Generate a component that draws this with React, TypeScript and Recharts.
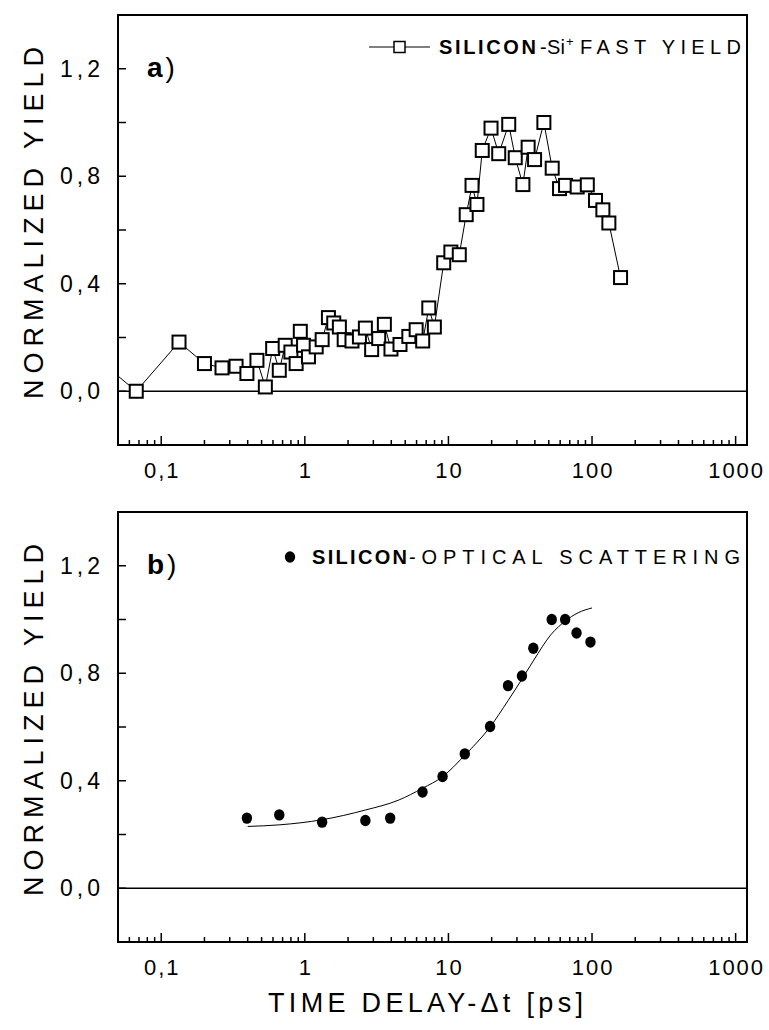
import React from 'react';
import { ComposedChart, Line, Scatter, XAxis, YAxis, ReferenceLine, ReferenceArea } from 'recharts';

// ---------- DATA ----------
const fastYieldX = [0.04, 0.067, 0.133, 0.2, 0.265, 0.332, 0.395, 0.464, 0.531, 0.597, 0.664, 0.73, 0.8, 0.87, 0.93, 0.98, 1.06, 1.2, 1.32, 1.46, 1.59, 1.74, 1.88, 2.13, 2.4, 2.64, 2.92, 3.27, 3.58, 3.98, 4.6, 5.3, 5.96, 6.62, 7.3, 7.98, 9.27, 10.4, 11.9, 13.3, 14.6, 15.8, 17.2, 19.8, 22.4, 26.3, 29.2, 33, 35.9, 39.8, 46.2, 52.8, 59.4, 65.4, 78.8, 92.7, 105.7, 119, 131, 158];
const fastYieldY = [0.10, 0.0, 0.183, 0.103, 0.087, 0.093, 0.066, 0.115, 0.016, 0.159, 0.078, 0.171, 0.146, 0.103, 0.223, 0.171, 0.128, 0.165, 0.192, 0.274, 0.254, 0.239, 0.192, 0.187, 0.202, 0.235, 0.155, 0.196, 0.249, 0.157, 0.174, 0.204, 0.229, 0.187, 0.31, 0.239, 0.478, 0.518, 0.508, 0.657, 0.766, 0.695, 0.896, 0.979, 0.884, 0.993, 0.869, 0.769, 0.908, 0.862, 1.0, 0.83, 0.754, 0.766, 0.76, 0.768, 0.71, 0.675, 0.626, 0.423];

const opticalX = [0.395, 0.664, 1.32, 2.64, 3.93, 6.6, 9.1, 13, 19.5, 26, 32.5, 39, 52.4, 65, 78, 97.5];
const opticalY = [0.261, 0.273, 0.246, 0.252, 0.261, 0.358, 0.416, 0.5, 0.602, 0.754, 0.79, 0.893, 1.0, 1.0, 0.95, 0.916];

const fitX = [0.4, 0.67, 1.32, 2.64, 4.5, 6.6, 9.1, 13, 19.5, 26, 32.5, 39, 52, 65, 80, 100];
const fitY = [0.23, 0.236, 0.255, 0.291, 0.328, 0.372, 0.415, 0.495, 0.6, 0.698, 0.778, 0.846, 0.945, 0.994, 1.025, 1.043];

const xMajorTicks = [0.1, 1, 10, 100, 1000];
const xTickLabels = ['0,1', '1', '10', '100', '1000'];
const xMinorTicks = [0.06, 0.07, 0.08, 0.09, 0.2, 0.3, 0.4, 0.5, 0.6, 0.7, 0.8, 0.9, 2, 3, 4, 5, 6, 7, 8, 9, 20, 30, 40, 50, 60, 70, 80, 90, 200, 300, 400, 500, 600, 700, 800, 900];
const yMajorTicks = [0, 0.4, 0.8, 1.2];
const yTickLabels = ['0,0', '0,4', '0,8', '1,2'];
const yMinorTicks = [0.2, 0.6, 1.0];

const xDomain = [0.05, 1200];
const yDomain = [-0.2, 1.4];

const fastData = fastYieldX.map((x, i) => ({ x, y: fastYieldY[i] }));
const opticalData = opticalX.map((x, i) => ({ x, y: opticalY[i] }));
const fitData = fitX.map((x, i) => ({ x, y: fitY[i] }));

const FONT = '"Liberation Sans", Arial, sans-serif';

const XTick = (props: any) => {
  const { x, y, payload } = props;
  const idx = xMajorTicks.indexOf(payload.value);
  const major = idx >= 0;
  return (
    <g>
      <line x1={x} x2={x} y1={y} y2={y - (major ? 9 : 5)} stroke="#000" strokeWidth={1.5} />
      {major && (
        <text x={x + 1} y={y + 33} textAnchor="middle" fontSize={22} fontFamily={FONT} letterSpacing={2} fill="#000">
          {xTickLabels[idx]}
        </text>
      )}
    </g>
  );
};

const YTick = (props: any) => {
  const { x, y, payload } = props;
  const idx = yMajorTicks.indexOf(payload.value);
  const major = idx >= 0;
  return (
    <g>
      <line x1={x} x2={x + 8} y1={y} y2={y} stroke="#000" strokeWidth={1.5} />
      {major && (
        <text x={x - 14} y={y + 8} textAnchor="end" fontSize={23} fontFamily={FONT} letterSpacing={4} fill="#000">
          {yTickLabels[idx]}
        </text>
      )}
    </g>
  );
};

const SquareDot = (props: any) => {
  const { cx, cy } = props;
  if (cx == null || cy == null) return null;
  return <rect x={cx - 6.5} y={cy - 6.5} width={13} height={13} fill="#fff" stroke="#000" strokeWidth={2} />;
};

const CircleDot = (props: any) => {
  const { cx, cy } = props;
  if (cx == null || cy == null) return null;
  return <ellipse cx={cx} cy={cy} rx={5.2} ry={5.7} fill="#000" />;
};

const W = 769;
const H = 505;

export default function App() {
  const allXTicks = [...xMinorTicks, ...xMajorTicks].sort((a, b) => a - b);
  const allYTicks = [...yMajorTicks, ...yMinorTicks].sort((a, b) => a - b);

  const axes = (
    <>
      <XAxis
        dataKey="x"
        type="number"
        scale="log"
        domain={xDomain}
        allowDataOverflow
        ticks={allXTicks}
        interval={0}
        tick={<XTick />}
        tickSize={0}
        tickMargin={0}
        axisLine={false}
        tickLine={false}
        height={60}
      />
      <YAxis
        dataKey="y"
        type="number"
        domain={yDomain}
        allowDataOverflow
        ticks={allYTicks}
        interval={0}
        tick={<YTick />}
        tickSize={0}
        tickMargin={0}
        axisLine={false}
        tickLine={false}
        width={118}
      />
    </>
  );

  return (
    <div style={{ position: 'absolute', left: 0, top: 0, width: W, height: 1030, background: '#fff' }}>
      <div style={{ position: 'absolute', left: 0, top: 0 }}>
        <ComposedChart width={W} height={H} margin={{ top: 15, right: 22, left: 0, bottom: 0 }} data={fastData}>
          {axes}
          <ReferenceLine y={0} stroke="#000" strokeWidth={1.5} />
          <Line
            data={fastData}
            dataKey="y"
            type="linear"
            stroke="#000"
            strokeWidth={1}
            dot={<SquareDot />}
            activeDot={false}
            isAnimationActive={false}
          />
          <ReferenceArea x1={xDomain[0]} x2={xDomain[1]} y1={yDomain[0]} y2={yDomain[1]} fill="none" stroke="#000" strokeWidth={2} ifOverflow="visible" />
        </ComposedChart>
      </div>
      <div style={{ position: 'absolute', left: 0, top: 497 }}>
        <ComposedChart width={W} height={H} margin={{ top: 15, right: 22, left: 0, bottom: 0 }} data={opticalData}>
          {axes}
          <ReferenceLine y={0} stroke="#000" strokeWidth={1.5} />
          <Line
            data={fitData}
            dataKey="y"
            type="monotone"
            stroke="#000"
            strokeWidth={1}
            dot={false}
            activeDot={false}
            isAnimationActive={false}
          />
          <Scatter data={opticalData} dataKey="y" shape={<CircleDot />} isAnimationActive={false} />
          <ReferenceArea x1={xDomain[0]} x2={xDomain[1]} y1={yDomain[0]} y2={yDomain[1]} fill="none" stroke="#000" strokeWidth={2} ifOverflow="visible" />
        </ComposedChart>
      </div>
      <svg width={W} height={1030} style={{ position: 'absolute', left: 0, top: 0, pointerEvents: 'none' }} fontFamily={FONT}>
        {/* y labels */}
        <text x={43} y={223} transform="rotate(-90 43 223)" textAnchor="middle" fontSize={27} textLength={352} lengthAdjust="spacing" fill="#000">NORMALIZED YIELD</text>
        <text x={43} y={720} transform="rotate(-90 43 720)" textAnchor="middle" fontSize={27} textLength={352} lengthAdjust="spacing" fill="#000">NORMALIZED YIELD</text>
        {/* panel letters */}
        <text x={147} y={77} fontSize={28} fill="#000"><tspan fontWeight="bold">a</tspan><tspan dx={3}>)</tspan></text>
        <text x={147} y={574} fontSize={28} fill="#000"><tspan fontWeight="bold">b</tspan><tspan dx={3}>)</tspan></text>
        {/* legend a */}
        <line x1={369} x2={394} y1={47} y2={47} stroke="#000" strokeWidth={1} />
        <line x1={405} x2={430} y1={47} y2={47} stroke="#000" strokeWidth={1} />
        <rect x={394} y={41.5} width={11} height={11} fill="#fff" stroke="#000" strokeWidth={1.5} />
        <text x={439} y={54} fontSize={20} fontWeight="bold" textLength={97} lengthAdjust="spacing" fill="#000">SILICON</text>
        <text x={540} y={54} fontSize={20} textLength={25} lengthAdjust="spacing" fill="#000">-Si</text>
        <text x={566} y={46} fontSize={13} fill="#000">+</text>
        <text x={580} y={54} fontSize={20} textLength={161} lengthAdjust="spacing" fill="#000">FAST YIELD</text>
        {/* legend b */}
        <ellipse cx={290} cy={557} rx={5.2} ry={5.7} fill="#000" />
        <text x={312} y={564} fontSize={20} fontWeight="bold" textLength={95} lengthAdjust="spacing" fill="#000">SILICON</text>
        <text x={409} y={564} fontSize={20} textLength={331} lengthAdjust="spacing" fill="#000">-OPTICAL SCATTERING</text>
        {/* x title */}
        <text x={268} y={1012} fontSize={27} textLength={315} lengthAdjust="spacing" fill="#000">TIME DELAY-Δt [ps]</text>
      </svg>
    </div>
  );
}
